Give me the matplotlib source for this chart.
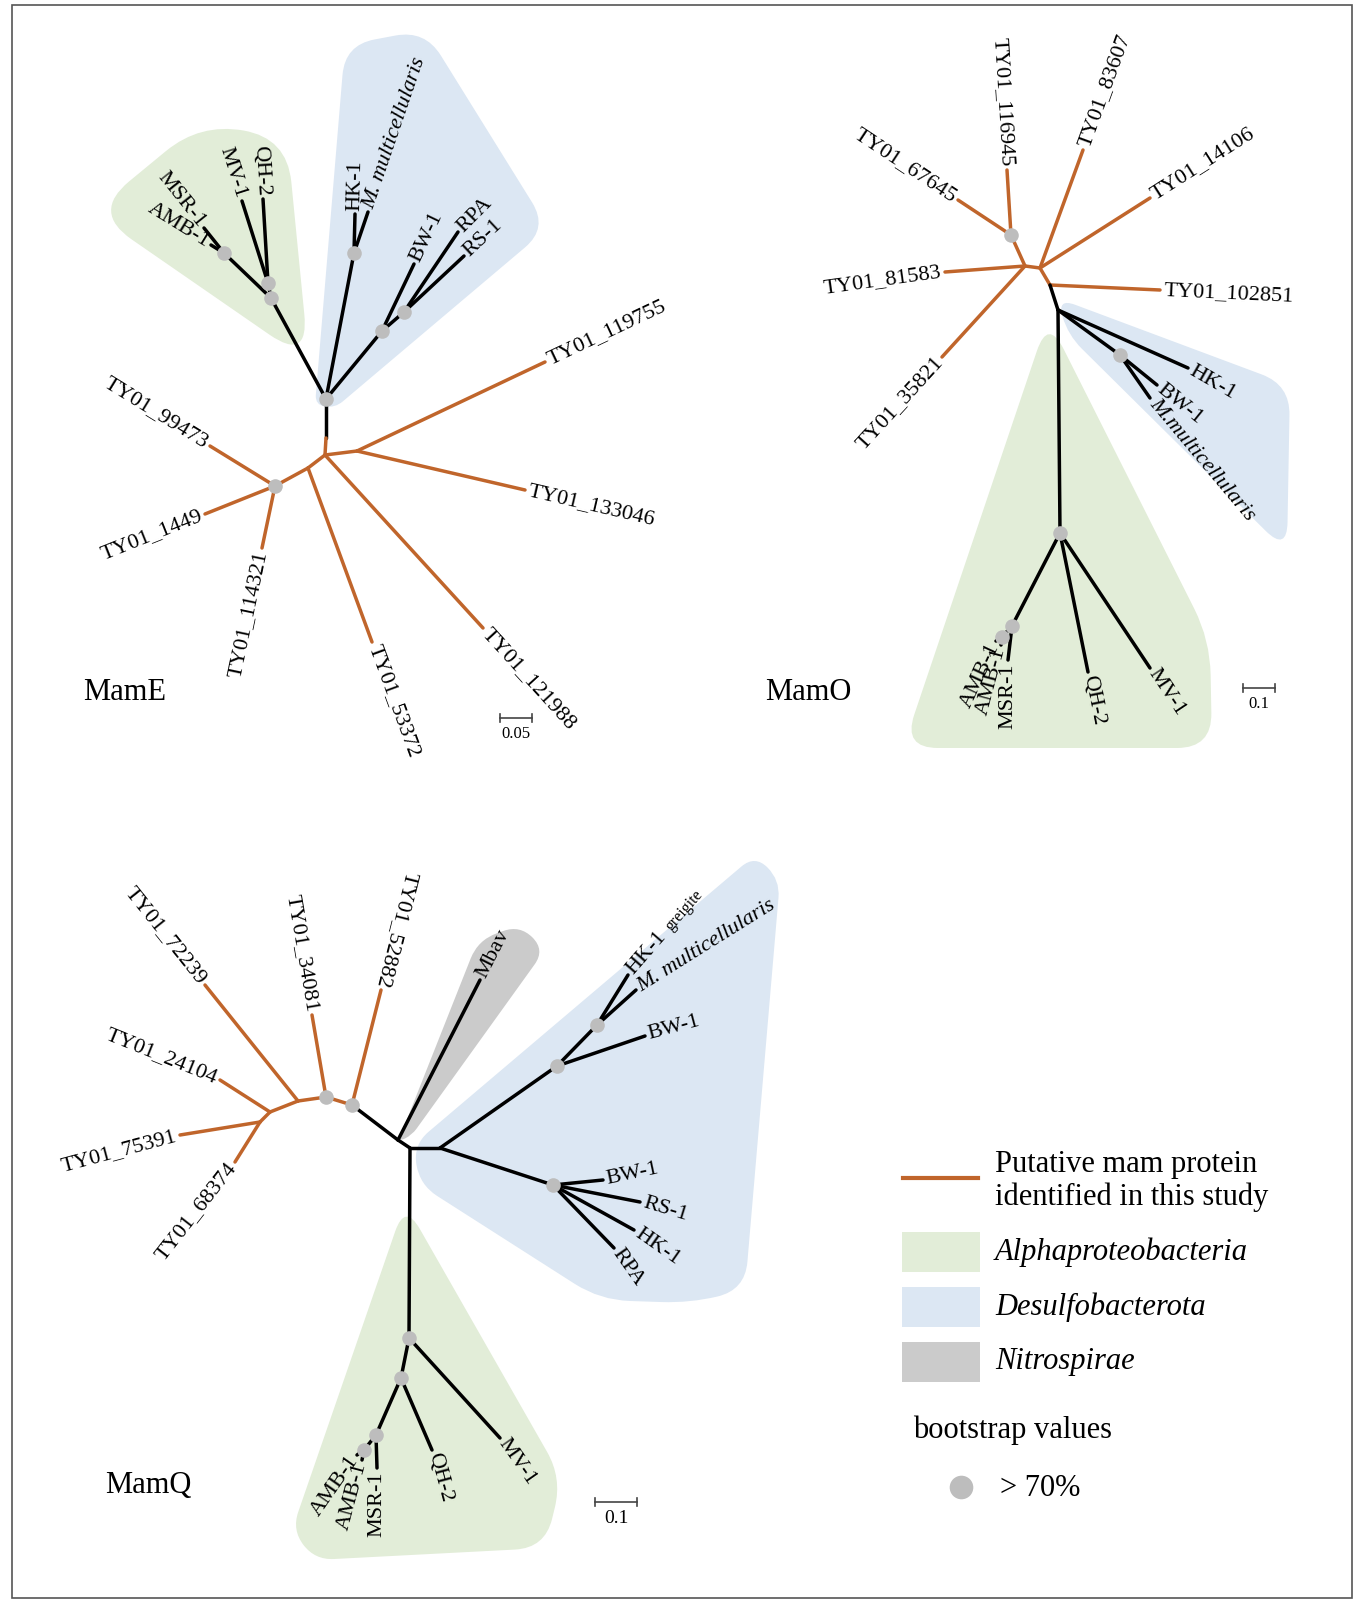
import math
import numpy as np
import matplotlib
matplotlib.use("Agg")
import matplotlib.pyplot as plt
from matplotlib.path import Path
from matplotlib.patches import PathPatch, Rectangle

plt.rcParams['font.family'] = ['Liberation Serif', 'DejaVu Serif']

ORANGE = '#C0652B'
ALPHA_C = '#E2EDD8'
DESULF_C = '#DCE7F3'
NITRO_C = '#CBCBCB'
DOT_C = '#BDBDBD'

# ------------------------------------------------------------------ MamE
mame_ids = ['R', 'K', 'L', 'C', 'a1', 'a2', 'a3', 'D', 'a4', 'E', 'a5', 'a6', 'a7',
            'G1', 'G2', 'g1', 'g2', 'G3', 'g3', 'g4', 'H', 'b1', 'b2', 'I', 'b3', 'J', 'b4', 'b5']
mame_parent = ['', 'R', 'K', 'L', 'C', 'C', 'L', 'L', 'D', 'D', 'E', 'E', 'E',
               'R', 'G1', 'G2', 'G2', 'G1', 'G3', 'G3', 'R', 'H', 'H', 'R', 'I', 'I', 'J', 'J']
mame_x = [326, 326, 325, 357, 545, 525, 483, 308, 372, 275, 210, 205, 262,
          271, 268, 263, 242, 224, 211, 204, 354, 355, 368, 382, 414, 404, 458, 464]
mame_y = [399, 438, 455, 451, 362, 490, 628, 468, 642, 486, 446, 514, 548,
          298, 283, 199, 201, 253, 245, 228, 253, 214, 212, 331, 264, 312, 232, 256]
mame_color = ['', 'k', 'o', 'o', 'o', 'o', 'o', 'o', 'o', 'o', 'o', 'o', 'o',
              'k', 'k', 'k', 'k', 'k', 'k', 'k', 'k', 'k', 'k', 'k', 'k', 'k', 'k', 'k']
mame_labels = {'a1': 'TY01_119755', 'a2': 'TY01_133046', 'a3': 'TY01_121988', 'a4': 'TY01_53372',
               'a5': 'TY01_99473', 'a6': 'TY01_1449', 'a7': 'TY01_114321',
               'g1': 'QH-2', 'g2': 'MV-1', 'g3': 'AMB-1', 'g4': 'MSR-1',
               'b1': 'HK-1', 'b2': 'M. multicellularis', 'b3': 'BW-1', 'b4': 'RPA', 'b5': 'RS-1'}
mame_dots = ['R', 'E', 'G1', 'G2', 'G3', 'H', 'I', 'J']
mame_dir = {'b4': 45}
mame_italic = ['b2']
mame_alpha_hull = [(92, 212), (200, 123), (287, 138), (309, 362)]
mame_desulf_hull = [(315, 405), (345, 45), (425, 30), (548, 228), (335, 408)]

# ------------------------------------------------------------------ MamO
mamo_ids = ['A', 'P1', 'o1', 'o2', 'o3', 'o4', 'B', 'o5', 'o6', 'Cn', 'o7', 'V1', 'd1', 'Q', 'd2', 'd3',
            'W', 'X', 'Y', 'm1', 'm2', 'm3', 'm4', 'm5']
mamo_parent = ['', 'A', 'P1', 'P1', 'A', 'A', 'A', 'B', 'B', 'B', 'Cn', 'Cn', 'V1', 'V1', 'Q', 'Q',
               'V1', 'W', 'X', 'Y', 'Y', 'X', 'W', 'W']
mamo_x = [1025, 1011, 1007, 958, 945, 942, 1040, 1083, 1150, 1050, 1160, 1058, 1188, 1120, 1157, 1150,
          1060, 1012, 1002, 996, 1001, 1008, 1088, 1150]
mamo_y = [266, 235, 170, 200, 272, 357, 268, 150, 198, 285, 290, 310, 368, 355, 385, 398,
          533, 626, 637, 641, 645, 660, 672, 668]
mamo_color = ['', 'o', 'o', 'o', 'o', 'o', 'o', 'o', 'o', 'o', 'o', 'k', 'k', 'k', 'k', 'k',
              'k', 'k', 'k', 'k', 'k', 'k', 'k', 'k']
mamo_labels = {'o1': 'TY01_116945', 'o2': 'TY01_67645', 'o3': 'TY01_81583', 'o4': 'TY01_35821',
               'o5': 'TY01_83607', 'o6': 'TY01_14106', 'o7': 'TY01_102851',
               'd1': 'HK-1', 'd2': 'BW-1', 'd3': 'M.multicellularis',
               'm1': 'AMB-1', 'm2': 'AMB-1', 'm3': 'MSR-1', 'm4': 'QH-2', 'm5': 'MV-1'}
mamo_dots = ['P1', 'Q', 'W', 'X', 'Y']
mamo_dir = {'o3': 188, 'd1': -30, 'd3': -50, 'm1': 245, 'm2': 255, 'm3': 269.9}
mamo_italic = ['d3']
mamo_alpha_hull = [(1048, 318), (1210, 640), (1212, 748), (903, 748)]
mamo_desulf_hull = [(1057, 298), (1290, 385), (1287, 552), (1068, 335)]

# ------------------------------------------------------------------ MamQ
mamq_ids = ['D1', 'D2', 'q1', 'q2', 'J1', 'q3', 'J2', 'q4', 'J3', 'q5', 'q6', 'N1', 'n1', 'N2', 'N3',
            'U1', 'U2', 'u1', 'u2', 'u3', 'L1', 'l1', 'l2', 'l3', 'l4',
            'W1', 'W2', 'W3', 'W4', 'w1', 'w2', 'w3', 'w4', 'w5']
mamq_parent = ['', 'D1', 'D1', 'D2', 'D2', 'J1', 'J1', 'J2', 'J2', 'J3', 'J3', 'D1', 'N1', 'N1', 'N2',
               'N3', 'U1', 'U2', 'U2', 'U1', 'N3', 'L1', 'L1', 'L1', 'L1',
               'N2', 'W1', 'W2', 'W3', 'W4', 'W4', 'W3', 'W2', 'W1']
mamq_x = [352, 326, 381, 312, 298, 205, 270, 220, 260, 180, 235, 398, 480, 410, 440,
          557, 597, 628, 636, 645, 553, 603, 640, 634, 614,
          409, 401, 376, 364, 357, 362, 377, 432, 500]
mamq_y = [1105, 1097, 990, 1015, 1101, 985, 1112, 1080, 1122, 1135, 1162, 1140, 980, 1148, 1148,
          1066, 1025, 975, 990, 1036, 1185, 1180, 1202, 1230, 1248,
          1338, 1378, 1435, 1450, 1455, 1460, 1468, 1450, 1438]
mamq_color = ['', 'o', 'o', 'o', 'o', 'o', 'o', 'o', 'o', 'o', 'o', 'k', 'k', 'k', 'k',
              'k', 'k', 'k', 'k', 'k', 'k', 'k', 'k', 'k', 'k',
              'k', 'k', 'k', 'k', 'k', 'k', 'k', 'k', 'k']
mamq_labels = {'q1': 'TY01_52882', 'q2': 'TY01_34081', 'q3': 'TY01_72239', 'q4': 'TY01_24104',
               'q5': 'TY01_75391', 'q6': 'TY01_68374', 'n1': 'Mbav',
               'u1': 'HK-1', 'u2': 'M. multicellularis', 'u3': 'BW-1',
               'l1': 'BW-1', 'l2': 'RS-1', 'l3': 'HK-1', 'l4': 'RPA',
               'w1': 'AMB-1', 'w2': 'AMB-1', 'w3': 'MSR-1', 'w4': 'QH-2', 'w5': 'MV-1'}
mamq_suffix = {'u1': 'greigite'}
mamq_dots = ['D1', 'D2', 'U1', 'U2', 'L1', 'W1', 'W2', 'W3', 'W4']
mamq_dir = {'q4': 158, 'q5': 195, 'q6': 232, 'u1': 49, 'u2': 32, 'u3': 15,
            'l1': 12, 'l2': -17, 'l3': -35, 'l4': -55,
            'w1': 235, 'w2': 255, 'w3': 269.9, 'w4': -75, 'w5': -55}
mamq_flip = ['q1']
mamq_italic = ['u2']
mamq_nitro_hull = [(398, 1142), (478, 940), (520, 925), (545, 950), (412, 1135)]
mamq_desulf_hull = [(413, 1145), (755, 855), (780, 880), (745, 1290), (690, 1303), (600, 1300), (420, 1185)]
mamq_alpha_hull = [(405, 1203), (562, 1478), (545, 1548), (315, 1560), (292, 1530)]

# ------------------------------------------------------------------ panel texts / scale bars
panel_names = ['MamE', 'MamO', 'MamQ']
panel_pos = [(83, 692), (765, 692), (105, 1485)]
scale_labels = ['0.05', '0.1', '0.1']
scale_bars = [(500, 532, 718), (1243, 1275, 688), (595, 637, 1502)]
scale_fs = [12, 12, 14]

legend_labels = ['Putative mam protein\nidentified in this study', 'Alphaproteobacteria',
                 'Desulfobacterota', 'Nitrospirae']
legend_colors = [ORANGE, ALPHA_C, DESULF_C, NITRO_C]

TIP_FS = 16

fig = plt.figure(figsize=(13.63, 16.02), dpi=100)
ax = fig.add_axes([0, 0, 1, 1])
ax.set_xlim(0, 1363)
ax.set_ylim(1602, 0)
ax.axis('off')


def rounded_path(pts, r):
    pts = np.asarray(pts, float)
    n = len(pts)
    verts, codes = [], []
    for i in range(n):
        p0, p1, p2 = pts[i - 1], pts[i], pts[(i + 1) % n]
        v1, v2 = p0 - p1, p2 - p1
        d1, d2 = np.linalg.norm(v1), np.linalg.norm(v2)
        rr = min(r, d1 / 2, d2 / 2)
        a = p1 + v1 / d1 * rr
        b = p1 + v2 / d2 * rr
        verts.append(a)
        codes.append(Path.MOVETO if i == 0 else Path.LINETO)
        verts += [p1, b]
        codes += [Path.CURVE3, Path.CURVE3]
    verts.append(verts[0])
    codes.append(Path.CLOSEPOLY)
    return Path(verts, codes)


def hull(pts, color, r=40):
    ax.add_patch(PathPatch(rounded_path(pts, r), facecolor=color, edgecolor='none', zorder=1))


def tip_label(x0, y0, x1, y1, text, direction=None, flip=False, italic=False, suffix=None):
    if direction is None:
        direction = math.degrees(math.atan2(-(y1 - y0), x1 - x0))
    c = math.cos(math.radians(direction))
    s = math.sin(math.radians(direction))
    gap = 2.5
    if flip:
        rot, ha = direction - 180, 'right'
    elif c < 0:
        rot, ha = direction - 180, 'right'
    else:
        rot, ha = direction, 'left'
    ax.annotate(text, xy=(x1, y1), xytext=(gap * c, gap * s), textcoords='offset points',
                rotation=rot, rotation_mode='anchor', ha=ha, va='center',
                fontsize=TIP_FS, style='italic' if italic else 'normal', zorder=5)
    if suffix:
        off = gap + 42
        ax.annotate(suffix, xy=(x1, y1), xytext=(off * c, off * s), textcoords='offset points',
                    rotation=rot, rotation_mode='anchor', ha=ha, va='center',
                    fontsize=11.5, zorder=5)


def draw_tree(ids, parent, xs, ys, colors, labels, dots, dirs, italic=(), flip=(), suffix=None):
    pos = {i: (x, y) for i, x, y in zip(ids, xs, ys)}
    for i, p, col in zip(ids, parent, colors):
        if not p:
            continue
        (x0, y0), (x1, y1) = pos[p], pos[i]
        ax.plot([x0, x1], [y0, y1], color=ORANGE if col == 'o' else 'black',
                lw=2.5, solid_capstyle='round', zorder=2)
    for d in dots:
        ax.plot([pos[d][0]], [pos[d][1]], 'o', color=DOT_C, ms=10.5, mec='none', zorder=3)
    for i, p in zip(ids, parent):
        if i in labels:
            (x0, y0), (x1, y1) = pos[p], pos[i]
            tip_label(x0, y0, x1, y1, labels[i], direction=dirs.get(i), flip=i in flip,
                      italic=i in italic, suffix=(suffix or {}).get(i))


# hulls
hull(mame_alpha_hull, ALPHA_C, 48)
hull(mame_desulf_hull, DESULF_C, 30)
hull(mamo_alpha_hull, ALPHA_C, 35)
hull(mamo_desulf_hull, DESULF_C, 30)
hull(mamq_nitro_hull, NITRO_C, 20)
hull(mamq_desulf_hull, DESULF_C, 30)
hull(mamq_alpha_hull, ALPHA_C, 30)

draw_tree(mame_ids, mame_parent, mame_x, mame_y, mame_color, mame_labels, mame_dots, mame_dir,
          italic=mame_italic)
draw_tree(mamo_ids, mamo_parent, mamo_x, mamo_y, mamo_color, mamo_labels, mamo_dots, mamo_dir,
          italic=mamo_italic)
draw_tree(mamq_ids, mamq_parent, mamq_x, mamq_y, mamq_color, mamq_labels, mamq_dots, mamq_dir,
          italic=mamq_italic, flip=mamq_flip, suffix=mamq_suffix)

# panel names
for name, (px, py) in zip(panel_names, panel_pos):
    ax.text(px, py, name, fontsize=22, ha='left', va='center')

# scale bars
for lab, (xa, xb, yb), fs in zip(scale_labels, scale_bars, scale_fs):
    ax.plot([xa, xb], [yb, yb], color='#444444', lw=1.2)
    ax.plot([xa, xa], [yb - 4, yb + 4], color='#444444', lw=1.2)
    ax.plot([xb, xb], [yb - 4, yb + 4], color='#444444', lw=1.2)
    ax.text((xa + xb) / 2, yb + 8, lab, fontsize=fs, ha='center', va='top')

# legend
ax.plot([903, 978], [1178, 1178], color=ORANGE, lw=3)
ax.text(995, 1181, legend_labels[0], fontsize=22, ha='left', va='center', linespacing=1.12)
for k, (lab, col) in enumerate(zip(legend_labels[1:], legend_colors[1:])):
    y = 1252 + 55 * k
    ax.add_patch(Rectangle((902, y - 20), 78, 40, facecolor=col, edgecolor='none'))
    ax.text(995, y, lab, fontsize=22, style='italic', ha='left', va='center')
ax.text(913, 1430, 'bootstrap values', fontsize=22, ha='left', va='center')
ax.plot([961], [1487], 'o', color=DOT_C, ms=17, mec='none')
ax.text(1000, 1488, '> 70%', fontsize=22, ha='left', va='center')

# frame
ax.add_patch(Rectangle((12, 5), 1340, 1593, fill=False, edgecolor='#555555', lw=1.2))

fig.savefig('out.png', dpi=100)
